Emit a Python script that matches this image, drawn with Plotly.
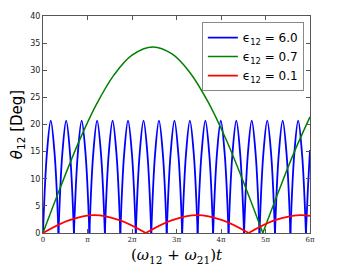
import plotly.graph_objects as go

# x values in units of pi, y values in degrees
blue_x = [0, .087, .174, .261, .348, None,
          .348, .434, .521, .608, .695, None,
          .695, .782, .869, .956, 1.043, None,
          1.043, 1.129, 1.216, 1.303, 1.390, None,
          1.390, 1.477, 1.564, 1.651, 1.738, None,
          1.738, 1.824, 1.911, 1.998, 2.085, None,
          2.085, 2.172, 2.259, 2.346, 2.433, None,
          2.433, 2.519, 2.606, 2.693, 2.780, None,
          2.780, 2.867, 2.954, 3.041, 3.128, None,
          3.128, 3.214, 3.301, 3.388, 3.475, None,
          3.475, 3.562, 3.649, 3.736, 3.823, None,
          3.823, 3.909, 3.996, 4.083, 4.170, None,
          4.170, 4.257, 4.344, 4.431, 4.518, None,
          4.518, 4.604, 4.691, 4.778, 4.865, None,
          4.865, 4.952, 5.039, 5.126, 5.213, None,
          5.213, 5.299, 5.386, 5.473, 5.560, None,
          5.560, 5.647, 5.734, 5.821, 5.908, None,
          5.908, 5.954, 6.0]
blue_y = [0, 14.6, 20.7, 14.6, 0, None] * 17 + [0, 8.4, 15.3]

green_x = [0, 0.4, 0.8, 1.2, 1.6, 2.0, 2.47, 2.9, 3.3, 3.7, 4.1, 4.5, 4.94, None,
           4.94, 5.3, 5.65, 6.0]
green_y = [0, 8.6, 16.7, 23.7, 29.2, 32.8, 34.3, 33.0, 29.6, 24.3, 17.5, 9.5, 0, None,
           0, 7.8, 15.0, 21.4]

red_x = [0, .578, 1.155, 1.733, 2.31, None,
         2.31, 2.888, 3.465, 4.043, 4.62, None,
         4.62, 5.198, 5.775, 6.0]
red_y = [0, 2.33, 3.3, 2.33, 0, None,
         0, 2.33, 3.3, 2.33, 0, None,
         0, 2.33, 3.3, 3.15]

series_names = ["ϵ<sub>12</sub> = 6.0", "ϵ<sub>12</sub> = 0.7", "ϵ<sub>12</sub> = 0.1"]
x_tick_vals = [0, 1, 2, 3, 4, 5, 6]
x_tick_text = ["0", "π", "2π", "3π", "4π", "5π", "6π"]
y_tick_vals = [0, 5, 10, 15, 20, 25, 30, 35, 40]

fig = go.Figure()
for xs, ys, name, col, w in [(blue_x, blue_y, series_names[0], "#0000ff", 1.8),
                             (green_x, green_y, series_names[1], "#008000", 1.5),
                             (red_x, red_y, series_names[2], "#ff0000", 1.8)]:
    fig.add_trace(go.Scatter(x=xs, y=ys, mode="lines", name=name,
                             line=dict(color=col, width=w, shape="spline", smoothing=1),
                             connectgaps=False))

axis_common = dict(showgrid=False, zeroline=False, showline=True, linecolor="#555",
                   linewidth=1, mirror="ticks", ticks="inside", ticklen=4,
                   tickcolor="#555", automargin=False,
                   tickfont=dict(family="DejaVu Sans", size=8, color="#222"))

fig.update_xaxes(range=[0, 6], tickvals=x_tick_vals, ticktext=x_tick_text,
                 title=dict(text="(<i>ω</i><sub>12</sub> + <i>ω</i><sub>21</sub>)<i>t</i>",
                            font=dict(family="DejaVu Serif", size=15, color="#000"),
                            standoff=6),
                 **{**axis_common, "tickfont": dict(family="DejaVu Serif", size=7, color="#222")})
fig.update_yaxes(range=[0, 40], tickvals=y_tick_vals,
                 title=dict(text="<i>θ</i><sub>12</sub> [Deg]",
                            font=dict(family="DejaVu Sans", size=15, color="#000"),
                            standoff=4),
                 **axis_common)

fig.update_layout(
    width=337, height=266,
    margin=dict(l=35, r=35, t=8, b=41),
    paper_bgcolor="white", plot_bgcolor="white",
    showlegend=True,
    legend=dict(x=0.977, y=0.972, xanchor="right", yanchor="top",
                bgcolor="white", bordercolor="#888", borderwidth=1,
                font=dict(family="DejaVu Sans", size=12, color="#000"),
                tracegroupgap=2),
)

fig.write_html("out.html")
